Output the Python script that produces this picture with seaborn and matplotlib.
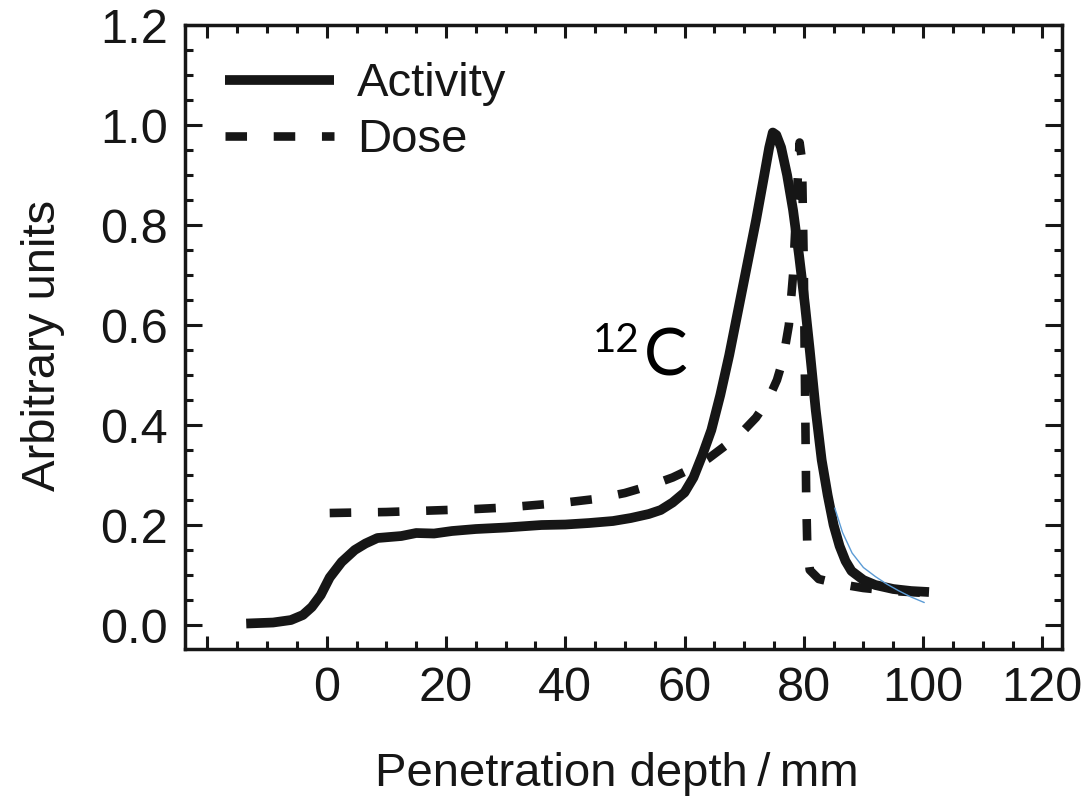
import matplotlib
matplotlib.use("Agg")
import matplotlib.pyplot as plt
import matplotlib.ticker as mticker
import seaborn as sns
import pandas as pd

# ---- data ----
activity_x = [-13.5, -9, -6, -4, -2.5, -1, 0.5, 2.5, 4.7, 6.5, 8.5, 12.5, 15, 18, 21, 25, 30, 36, 40, 44,
              48, 51, 54, 56, 58, 60, 61.5, 63, 64.5, 66, 67.5, 69, 70.5, 72, 73.3, 74.2, 74.8, 75.4, 76.2,
              77.2, 78.2, 79.2, 80.2, 81, 82, 83, 84, 85, 86, 87, 88, 90, 92, 95, 98, 101]
activity_y = [0.003, 0.005, 0.01, 0.02, 0.036, 0.06, 0.095, 0.126, 0.15, 0.163, 0.174, 0.178, 0.184, 0.183,
              0.188, 0.192, 0.195, 0.2, 0.201, 0.204, 0.208, 0.214, 0.222, 0.23, 0.245, 0.265, 0.295, 0.34,
              0.39, 0.46, 0.54, 0.63, 0.72, 0.81, 0.895, 0.955, 0.985, 0.98, 0.955, 0.9, 0.83, 0.74, 0.64,
              0.55, 0.43, 0.33, 0.26, 0.2, 0.158, 0.128, 0.108, 0.09, 0.08, 0.072, 0.068, 0.066]

dose_x = [0.5, 5, 10, 15, 20, 25, 30, 35, 40, 45, 50, 54, 58, 61, 64, 67, 70, 72, 74, 75.5, 76.5, 77.5,
          78.2, 78.8, 79.3, 79.7, 80.0, 80.2, 80.4, 80.6, 81.0, 82.5, 86, 90, 95, 100.5]
dose_y = [0.224, 0.225, 0.226, 0.228, 0.230, 0.232, 0.235, 0.240, 0.245, 0.252, 0.264, 0.278, 0.295, 0.312,
          0.333, 0.36, 0.39, 0.415, 0.45, 0.49, 0.53, 0.60, 0.70, 0.85, 0.965, 0.93, 0.72, 0.48, 0.26,
          0.15, 0.11, 0.092, 0.082, 0.074, 0.068, 0.064]

fit_x = [85.2, 86.5, 88.1, 90, 92, 93.9, 96, 98, 100.2]
fit_y = [0.234, 0.185, 0.144, 0.115, 0.097, 0.082, 0.068, 0.056, 0.045]

x_ticks = [-20, 0, 20, 40, 60, 80, 100, 120]
x_ticklabels = ["", "0", "20", "40", "60", "80", "100", "120"]
y_ticks = [0.0, 0.2, 0.4, 0.6, 0.8, 1.0, 1.2]
y_ticklabels = ["0.0", "0.2", "0.4", "0.6", "0.8", "1.0", "1.2"]

series_labels = ["Activity", "Dose"]
x_label = "Penetration depth\u2009/\u2009mm"
y_label = "Arbitrary units"

# ---- style ----
sns.set_theme(style="ticks")
plt.rcParams["font.family"] = ["Liberation Sans", "DejaVu Sans"]

fig = plt.figure(figsize=(10.87, 7.99), dpi=100)
ax = fig.add_axes([0.170, 0.1877, 0.807, 0.781])

df_act = pd.DataFrame({"x": activity_x, "y": activity_y})
df_dose = pd.DataFrame({"x": dose_x, "y": dose_y})
df_fit = pd.DataFrame({"x": fit_x, "y": fit_y})

sns.lineplot(data=df_act, x="x", y="y", ax=ax, color="#161616", linewidth=7.0,
             label=series_labels[0], estimator=None, sort=False, solid_capstyle="butt",
             solid_joinstyle="round")
sns.lineplot(data=df_dose, x="x", y="y", ax=ax, color="#161616", linewidth=6.2,
             label=series_labels[1], estimator=None, sort=False)
l_dose = ax.lines[-1]
l_dose.set_dashes((2.5, 3.1))
l_dose.set_dash_capstyle("butt")
sns.lineplot(data=df_fit, x="x", y="y", ax=ax, color="#5B9BD5", linewidth=1.0,
             estimator=None, sort=False, legend=False, zorder=5)

ax.set_xlim(-23.8, 123.3)
ax.set_ylim(-0.048, 1.2)

ax.xaxis.set_major_locator(mticker.FixedLocator(x_ticks))
ax.xaxis.set_major_formatter(mticker.FixedFormatter(x_ticklabels))
ax.xaxis.set_minor_locator(mticker.MultipleLocator(5))
ax.yaxis.set_major_locator(mticker.FixedLocator(y_ticks))
ax.yaxis.set_major_formatter(mticker.FixedFormatter(y_ticklabels))
ax.yaxis.set_minor_locator(mticker.MultipleLocator(0.05))

ax.tick_params(axis="both", which="both", direction="in", top=True, right=True, color="#161616")
ax.tick_params(axis="x", which="major", length=9.4, width=2.2, pad=12)
ax.tick_params(axis="x", which="minor", length=5.5, width=2.2)
ax.tick_params(axis="y", which="major", length=12.2, width=2.2, pad=12)
ax.tick_params(axis="y", which="minor", length=5.8, width=2.2)
for lab in ax.get_xticklabels():
    lab.set_fontsize(35)
    lab.set_color("#161616")
for lab in ax.get_yticklabels():
    lab.set_fontsize(35)
    lab.set_color("#161616")

for sp in ax.spines.values():
    sp.set_linewidth(2.5)
    sp.set_color("#161616")
    sp.set_visible(True)

ax.set_xlabel(x_label, fontsize=34, color="#161616")
ax.set_ylabel(y_label, fontsize=34, color="#161616")
ax.xaxis.set_label_coords(0.492, -0.165)
ax.yaxis.set_label_coords(-0.137, 0.487)

leg = ax.legend(loc="upper left", bbox_to_anchor=(0.046, 0.94), frameon=False, fontsize=34,
                handlelength=2.3, handletextpad=0.5, labelspacing=0.25, borderpad=0, borderaxespad=0)
for t in leg.get_texts():
    t.set_color("#161616")

# 12C annotation
ax.text(44.6, 0.546, "12", fontsize=29, fontfamily="Lato", color="black", ha="left", va="baseline")
ax.text(53.2, 0.500, "C", fontsize=47, fontfamily="Lato", color="black", ha="left", va="baseline")

fig.savefig("out.png", dpi=100)
